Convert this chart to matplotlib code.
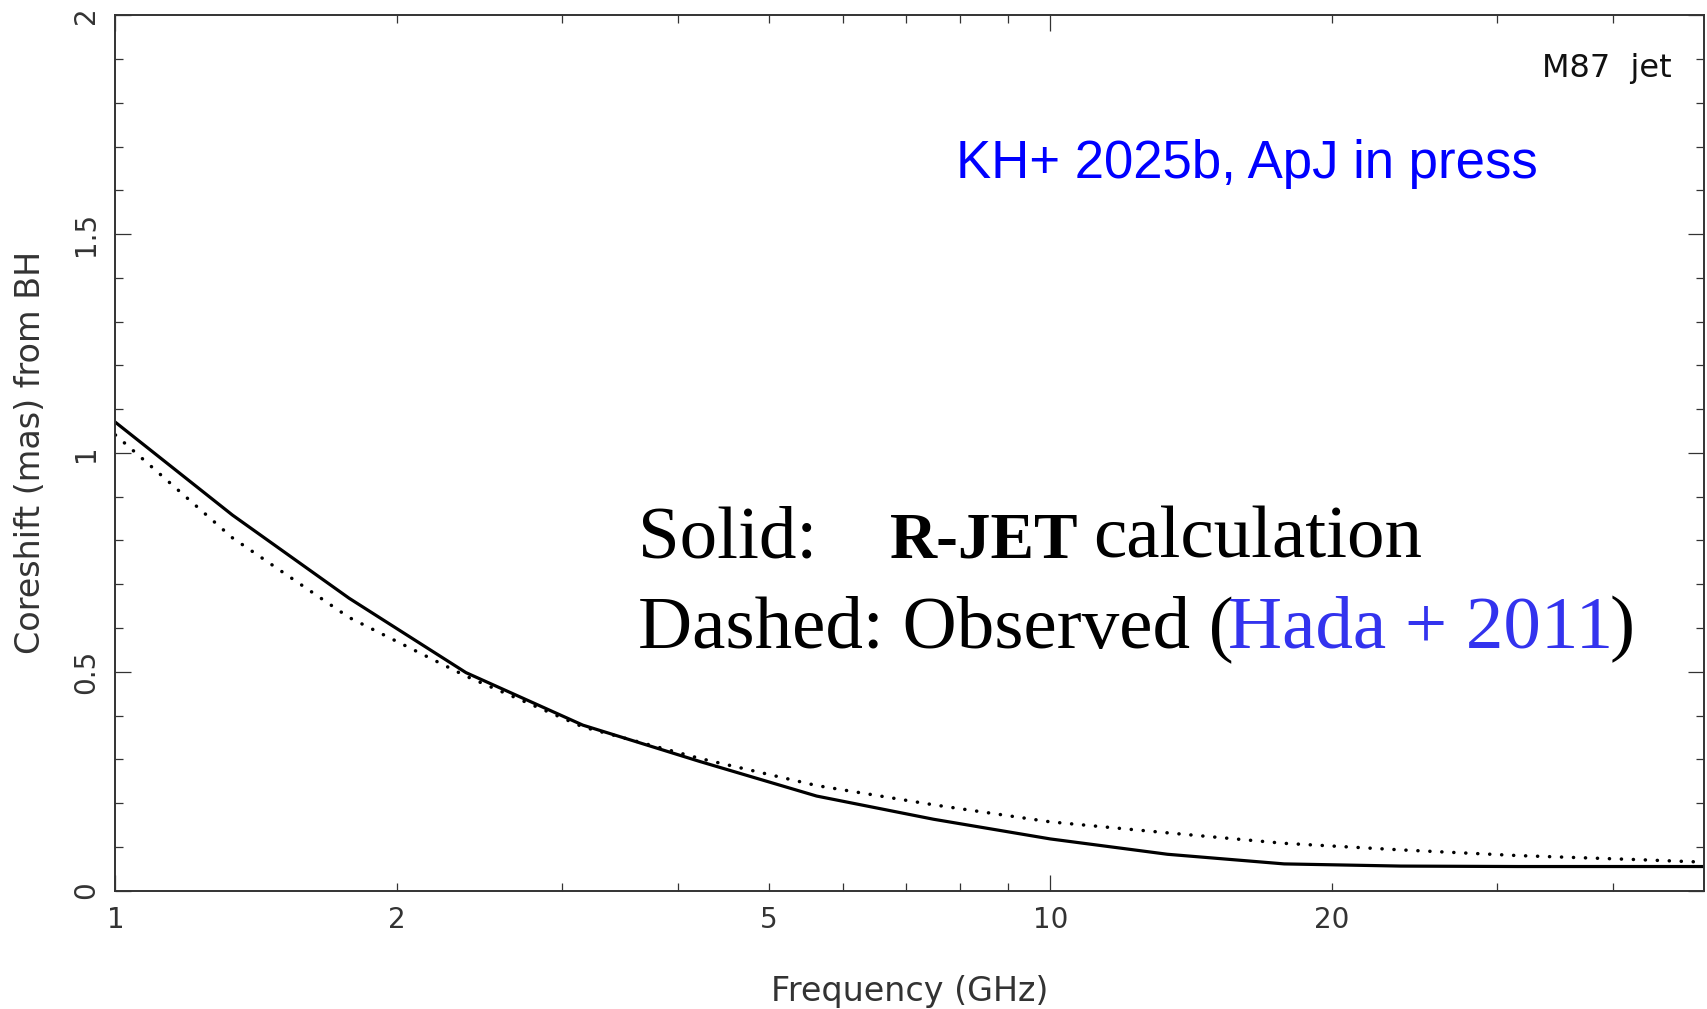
import matplotlib
matplotlib.use('Agg')
import matplotlib.pyplot as plt

W, H = 1707, 1009

# frequencies (GHz), sampled every 1/8 decade, plus the 50 GHz end point
freq = [1.0, 1.334, 1.778, 2.371, 3.162, 4.217, 5.623, 7.499,
        10.0, 13.34, 17.78, 23.71, 31.62, 42.17, 50.0]
# R-JET model coreshift (mas)
rjet = [1.070, 0.858, 0.668, 0.498, 0.378, 0.295, 0.216, 0.163,
        0.118, 0.083, 0.061, 0.056, 0.055, 0.055, 0.055]
# observed coreshift, Hada et al. 2011 (mas)
hada = [1.041, 0.806, 0.624, 0.490, 0.374, 0.302, 0.240, 0.196,
        0.157, 0.132, 0.108, 0.093, 0.080, 0.071, 0.065]

x_major = [1, 10]
x_major_labels = ['1', '10']
x_minor = [2, 3, 4, 5, 6, 7, 8, 9, 20, 30, 40]
x_minor_labels = ['2', '', '', '5', '', '', '', '', '20', '', '']
y_major = [0, 0.5, 1, 1.5, 2]
y_major_labels = ['0', '0.5', '1', '1.5', '2']
y_minor = [0.1, 0.2, 0.3, 0.4, 0.6, 0.7, 0.8, 0.9,
           1.1, 1.2, 1.3, 1.4, 1.6, 1.7, 1.8, 1.9]

axcol = '#333333'

fig = plt.figure(figsize=(W / 100, H / 100), dpi=100)
fig.patch.set_facecolor('white')
ax = fig.add_axes([115.4 / W, 1 - 890.6 / H, (1704 - 115.4) / W, (890.6 - 15.2) / H])

ax.plot(freq, rjet, color='black', lw=2.3, solid_joinstyle='miter')
ax.plot(freq, hada, color='black', lw=2.5, linestyle=(0, (0.05, 3.4)),
        dash_capstyle='round')

ax.set_xscale('log')
ax.set_xlim(1, 50)
ax.set_ylim(0, 2)

ax.set_xticks(x_major, x_major_labels)
ax.set_xticks(x_minor, x_minor_labels, minor=True)
ax.set_yticks(y_major, y_major_labels, rotation=90, va='center')
ax.set_yticks(y_minor, minor=True)

ax.tick_params(which='both', direction='in', top=True, right=True,
               color=axcol, width=0.9, labelsize=20, labelcolor=axcol)
ax.tick_params(which='major', length=11.5)
ax.tick_params(which='minor', length=6)
ax.tick_params(axis='x', which='both', pad=11)
ax.tick_params(axis='y', which='both', pad=11)

for s in ax.spines.values():
    s.set_linewidth(1.4)
    s.set_color(axcol)

ax.set_xlabel('Frequency (GHz)', fontsize=24, color=axcol, va='center')
ax.xaxis.set_label_coords(0.5, -0.1147)
ax.set_ylabel('Coreshift (mas) from BH', fontsize=24, color=axcol, va='center')
ax.yaxis.set_label_coords(-0.0535, 0.5)


def ftext(px, py, s, **kw):
    fig.text(px / W, 1 - py / H, s, **kw)


ftext(1672, 77, 'M87  jet', fontsize=23, ha='right', va='baseline', color='#111111')
ftext(956, 178, 'KH+ 2025b, ApJ in press', fontsize=38, color='#0000ff',
      family='Liberation Sans', ha='left', va='baseline')

serif = dict(family='Liberation Serif', va='baseline', ha='left', color='black')
ftext(638, 557, 'Solid:', fontsize=54, **serif)
ftext(890, 557, 'R-JET', fontsize=47, fontweight='bold', **serif)
ftext(1093, 557, 'calculation', fontsize=54, **serif)
ftext(638, 647, 'Dashed: Observed (', fontsize=54, **serif)
ftext(1228, 647, 'Hada + 2011', fontsize=54, family='Liberation Serif',
      va='baseline', ha='left', color='#3333ee')
ftext(1610, 647, ')', fontsize=54, **serif)

fig.savefig('out.png', dpi=100, facecolor='white')
